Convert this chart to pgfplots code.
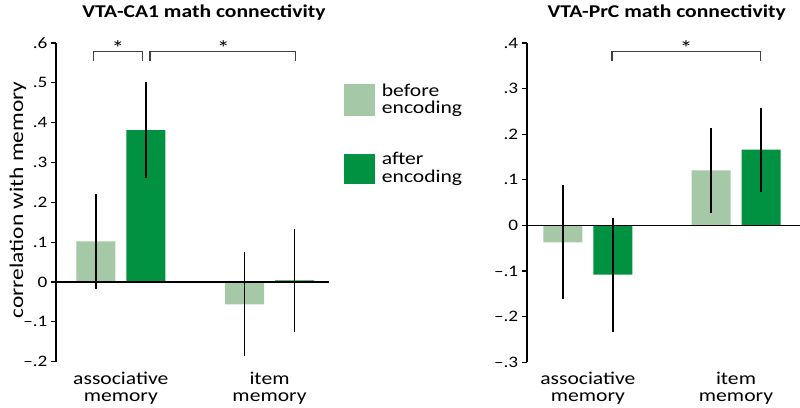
\documentclass[border=0pt]{standalone}
\usepackage{fontspec}
\setmainfont{Carlito}[FakeStretch=1.2]
\usepackage{pgfplots}
\pgfplotsset{compat=1.18}
\definecolor{before}{RGB}{165,201,167}
\definecolor{after}{RGB}{0,146,64}
\pgfplotsset{
  panel/.style={
    scale only axis, anchor=south west, width=273pt,
    ybar, bar width=39pt,
    axis y line*=left, axis x line*=bottom,
    x axis line style={draw=none},
    y axis line style={line width=1.6pt},
    xtick={0,1}, xticklabels={{associative\\memory},{item\\memory}},
    xtick style={draw=none},
    xticklabel style={align=center, font=\fontsize{18}{17}\selectfont, yshift=-1.5pt},
    yticklabel style={font=\fontsize{16}{17}\selectfont},
    tick align=outside, major tick length=5pt,
    ytick style={line width=1.2pt, black},
    clip=false,
  },
  errs/.style={error bars/.cd, y dir=both, y explicit, error mark=none,
    error bar style={line width=1.8pt, black}},
}
\tikzset{brk/.style={line width=1.4pt, black!75}}
\begin{document}
\begin{tikzpicture}[x=1pt,y=1pt]
\path[use as bounding box] (0,0) rectangle (800,407);

% left panel
\begin{axis}[panel, at={(56pt,45.4pt)}, height=318.6pt,
  xmin=-0.436, xmax=1.4, ymin=-0.2, ymax=0.6,
  ytick={-0.2,-0.1,0,0.1,0.2,0.3,0.4,0.5,0.6},
  yticklabels={–.2,–.1,0,.1,.2,.3,.4,.5,.6}]
\addplot[fill=before, draw=none, bar shift=-25pt, errs] coordinates {
  (0,0.102) +- (0,0.12)
  (1,-0.056) +- (0,0.13)
};
\addplot[fill=after, draw=none, bar shift=25pt, errs] coordinates {
  (0,0.381) +- (0,0.12)
  (1,0.004) +- (0,0.13)
};
\draw[line width=1.6pt] (axis cs:-0.436,0) -- (axis cs:1.4,0);
\draw[brk] (axis cs:-0.182,0.555) -- (axis cs:-0.182,0.578) -- (axis cs:0.145,0.578) -- (axis cs:0.145,0.555);
\draw[brk] (axis cs:0.196,0.555) -- (axis cs:0.196,0.578) -- (axis cs:1.176,0.578) -- (axis cs:1.176,0.555);
\node[font=\fontsize{21}{22}\selectfont] at (axis cs:-0.02,0.588) {*};
\node[font=\fontsize{21}{22}\selectfont] at (axis cs:0.69,0.588) {*};
\end{axis}

% right panel
\begin{axis}[panel, at={(526.7pt,44.7pt)}, height=319.3pt,
  xmin=-0.413, xmax=1.43, ymin=-0.3, ymax=0.4,
  ytick={-0.3,-0.2,-0.1,0,0.1,0.2,0.3,0.4},
  yticklabels={–.3,–.2,–.1,0,.1,.2,.3,.4}]
\addplot[fill=before, draw=none, bar shift=-25pt, errs] coordinates {
  (0,-0.037) +- (0,0.125)
  (1,0.121) +- (0,0.093)
};
\addplot[fill=after, draw=none, bar shift=25pt, errs] coordinates {
  (0,-0.108) +- (0,0.125)
  (1,0.166) +- (0,0.092)
};
\draw[line width=1.6pt] (axis cs:-0.413,0) -- (axis cs:1.43,0);
\draw[brk] (axis cs:0.164,0.361) -- (axis cs:0.164,0.381) -- (axis cs:1.164,0.381) -- (axis cs:1.164,0.361);
\node[font=\fontsize{21}{22}\selectfont] at (axis cs:0.664,0.39) {*};
\end{axis}

% legend
\fill[before] (344,291.3) rectangle (375,322.7);
\fill[after] (344,222.7) rectangle (375,253);
\node[anchor=west, align=left, inner sep=0, font=\fontsize{18}{17.3}\selectfont] at (381.7,307) {before\\encoding};
\node[anchor=west, align=left, inner sep=0, font=\fontsize{18}{17.3}\selectfont] at (381.7,238) {after\\encoding};

% titles and y label
\node[font=\bfseries\fontsize{18}{20}\selectfont] at (204,394) {VTA-CA1 math connectivity};
\node[font=\bfseries\fontsize{18}{20}\selectfont] at (666.7,394) {VTA-PrC math connectivity};
\node[rotate=90, font=\fontsize{19.5}{20}\selectfont] at (18,207) {correlation with memory};
\end{tikzpicture}
\end{document}
